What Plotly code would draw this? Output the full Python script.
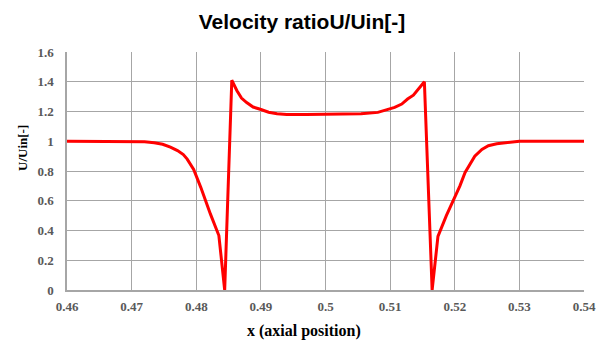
import plotly.graph_objects as go

x_pos = [0.46, 0.465, 0.47, 0.472, 0.4735, 0.4748, 0.476, 0.4771, 0.4780, 0.4786,
         0.4796, 0.4807, 0.4822, 0.4835, 0.4844, 0.4855, 0.4863, 0.4870, 0.4878,
         0.4888, 0.4899, 0.4912, 0.4925, 0.494, 0.497, 0.5, 0.503, 0.5055, 0.5081,
         0.5095, 0.5107, 0.5118, 0.5127, 0.5136, 0.5143, 0.5153, 0.5165, 0.5174,
         0.5187, 0.52, 0.5208, 0.5216, 0.5231, 0.5242, 0.5252, 0.5265, 0.5278,
         0.53, 0.535, 0.54]
u_ratio = [1.0, 1.0, 1.0, 0.997, 0.99, 0.98, 0.96, 0.937, 0.91, 0.88,
           0.81, 0.69, 0.51, 0.366, 0.0, 1.41, 1.34, 1.29, 1.26,
           1.23, 1.215, 1.195, 1.185, 1.18, 1.18, 1.18, 1.18, 1.185, 1.194,
           1.21, 1.228, 1.25, 1.284, 1.31, 1.35, 1.40, 0.0, 0.36,
           0.50, 0.623, 0.70, 0.79, 0.90, 0.945, 0.97, 0.983, 0.99,
           1.0, 1.0, 1.0]

x_ticks = [0.46, 0.47, 0.48, 0.49, 0.5, 0.51, 0.52, 0.53, 0.54]
x_tick_labels = ["0.46", "0.47", "0.48", "0.49", "0.5", "0.51", "0.52", "0.53", "0.54"]
y_ticks = [0, 0.2, 0.4, 0.6, 0.8, 1, 1.2, 1.4, 1.6]
y_tick_labels = ["0", "0.2", "0.4", "0.6", "0.8", "1", "1.2", "1.4", "1.6"]

W, H = 606, 340
L, R, T, B = 67, 22, 52, 50
pw, ph = W - L - R, H - T - B

grid_col = "#a6a6a6"
tick_font = dict(family="Liberation Serif", size=13, color="#595959", weight="bold")

fig = go.Figure()
fig.add_trace(go.Scatter(x=x_pos, y=u_ratio, mode="lines",
                         line=dict(color="#ff0000", width=3), showlegend=False))

fig.update_layout(
    width=W, height=H,
    margin=dict(l=L, r=R, t=T, b=B, autoexpand=False),
    paper_bgcolor="white", plot_bgcolor="white",
    title=dict(text="<b>Velocity ratioU/Uin[-]</b>", x=302 / W, xanchor="center",
               y=1 - 22 / H, yanchor="middle",
               font=dict(family="Liberation Sans", size=21, color="#000000")),
    xaxis=dict(range=[0.46, 0.54], tickvals=x_ticks, ticktext=x_tick_labels,
               showgrid=True, gridcolor=grid_col, gridwidth=1.2,
               showline=True, linecolor=grid_col, linewidth=1.5,
               zeroline=False, ticks="", tickfont=tick_font,
               ticklabelstandoff=4, automargin=False),
    yaxis=dict(range=[0, 1.6], tickvals=y_ticks, ticktext=y_tick_labels,
               showgrid=True, gridcolor=grid_col, gridwidth=1.2,
               showline=True, linecolor=grid_col, linewidth=1.5,
               zeroline=False, ticks="", tickfont=tick_font,
               ticklabelstandoff=9, automargin=False),
    annotations=[
        dict(text="<b>x (axial position)</b>", xref="paper", yref="paper",
             x=(304 - L) / pw, y=-(331 - (T + ph)) / ph,
             xanchor="center", yanchor="middle", showarrow=False,
             font=dict(family="Liberation Serif", size=16, color="#000000")),
        dict(text="<b>U/Uin[-]</b>", xref="paper", yref="paper",
             x=-(L - 22) / pw, y=(T + ph - 148) / ph, textangle=-90,
             xanchor="center", yanchor="middle", showarrow=False,
             font=dict(family="Liberation Serif", size=13, color="#000000")),
    ],
)

fig.write_html("out.html")
